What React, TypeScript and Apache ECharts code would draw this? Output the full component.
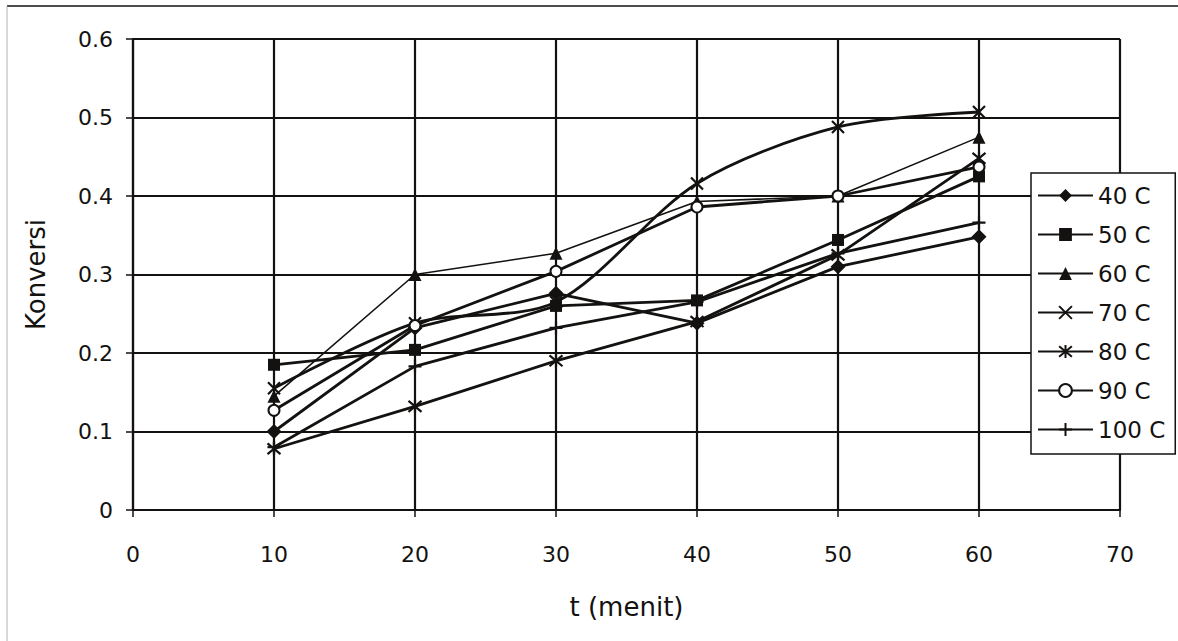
import React, { useEffect, useRef } from "react";
import * as echarts from "echarts";

const tMinutes = [10, 20, 30, 40, 50, 60];
const seriesNames = ["40 C", "50 C", "60 C", "70 C", "80 C", "90 C", "100 C"];
const c40 = [0.1, 0.232, 0.276, 0.238, 0.31, 0.348];
const c50 = [0.185, 0.204, 0.26, 0.267, 0.344, 0.425];
const c60 = [0.145, 0.3, 0.327, 0.393, 0.4, 0.475];
const c70 = [0.155, 0.238, 0.265, 0.416, 0.488, 0.507];
const c80 = [0.078, 0.132, 0.19, 0.24, 0.325, 0.448];
const c90 = [0.127, 0.235, 0.304, 0.386, 0.4, 0.437];
const c100 = [0.08, 0.183, 0.232, 0.265, 0.327, 0.366];
const xTicks = { min: 0, max: 70, step: 10 };
const yTicks = { min: 0, max: 0.6, step: 0.1 };

const INK = "#141210";
const FONT = "DejaVu Sans";

const X_SYM = "path://M0,0L10,10M10,0L0,10";
const STAR_SYM = "path://M0,0L10,10M10,0L0,10M5,-1L5,11";
const PLUS_SYM = "path://M5,0L5,10M0,5L10,5";

function mk(name: string, vals: number[], symbol: string, size: number, opts: any = {}) {
  return {
    type: "line",
    name,
    data: tMinutes.map((t, i) => [t, vals[i]]),
    symbol,
    symbolSize: size,
    showSymbol: true,
    smooth: opts.smooth || false,
    lineStyle: { color: INK, width: opts.lw || 2.8 },
    itemStyle: {
      color: INK,
      borderColor: INK,
      borderWidth: opts.bw || 0,
    },
    emphasis: { disabled: true },
    z: 3,
  };
}

export default function App() {
  const ref = useRef<HTMLDivElement>(null);
  useEffect(() => {
    const chart = echarts.init(ref.current!, null, { renderer: "svg" });
    chart.setOption({
      animation: false,
      backgroundColor: "#fff",
      grid: { left: 133, right: 58, top: 39, bottom: 131, containLabel: false },
      xAxis: {
        type: "value",
        min: xTicks.min,
        max: xTicks.max,
        interval: xTicks.step,
        name: "t (menit)",
        nameLocation: "middle",
        nameGap: 84,
        nameTextStyle: { fontSize: 26, fontFamily: FONT, color: INK },
        axisLine: { show: true, lineStyle: { color: INK, width: 2.2 } },
        axisTick: { show: true, inside: false, length: 7, lineStyle: { color: INK, width: 1.5 } },
        axisLabel: { margin: 33, fontSize: 22, fontFamily: FONT, color: INK },
        splitLine: { show: true, lineStyle: { color: INK, width: 2.2 } },
      },
      yAxis: {
        type: "value",
        min: yTicks.min,
        max: yTicks.max,
        interval: yTicks.step,
        name: "Konversi",
        nameLocation: "middle",
        nameGap: 84,
        nameTextStyle: { fontSize: 26, fontFamily: FONT, color: INK },
        axisLine: { show: true, lineStyle: { color: INK, width: 2.2 } },
        axisTick: { show: true, inside: false, length: 7, lineStyle: { color: INK, width: 1.5 } },
        axisLabel: {
          margin: 20,
          fontSize: 22,
          fontFamily: FONT,
          color: INK,
          formatter: (v: number) => (v === 0 ? "0" : v.toFixed(1)),
        },
        splitLine: { show: true, lineStyle: { color: INK, width: 2.2 } },
      },
      legend: {
        orient: "vertical",
        left: 1031,
        top: 173,
        itemWidth: 55,
        itemHeight: 16,
        itemGap: 16,
        padding: [11, 10, 13, 6],
        borderColor: INK,
        borderWidth: 1.5,
        backgroundColor: "#fff",
        textStyle: { fontSize: 23, fontFamily: FONT, color: INK, lineHeight: 23 },
        data: seriesNames,
      },
      graphic: [
        { type: "line", shape: { x1: 7, y1: 6, x2: 1178, y2: 6 }, style: { stroke: INK, lineWidth: 1.5 }, silent: true },
        { type: "line", shape: { x1: 7, y1: 6, x2: 7, y2: 641 }, style: { stroke: "#b0b0b0", lineWidth: 1 }, silent: true },
      ],
      series: [
        mk(seriesNames[0], c40, "diamond", 15),
        mk(seriesNames[1], c50, "rect", 12),
        mk(seriesNames[2], c60, "triangle", 13, { lw: 1.6 }),
        mk(seriesNames[3], c70, X_SYM, 12, { bw: 2.2, smooth: 0.3 }),
        mk(seriesNames[4], c80, STAR_SYM, 13, { bw: 2.2 }),
        mk(seriesNames[5], c90, "emptyCircle", 11, { bw: 2 }),
        mk(seriesNames[6], c100, PLUS_SYM, 13, { bw: 2.2 }),
      ],
    });
    return () => chart.dispose();
  }, []);
  return (
    <div
      ref={ref}
      style={{ position: "fixed", left: 0, top: 0, width: 1178, height: 641, background: "#fff" }}
    />
  );
}
